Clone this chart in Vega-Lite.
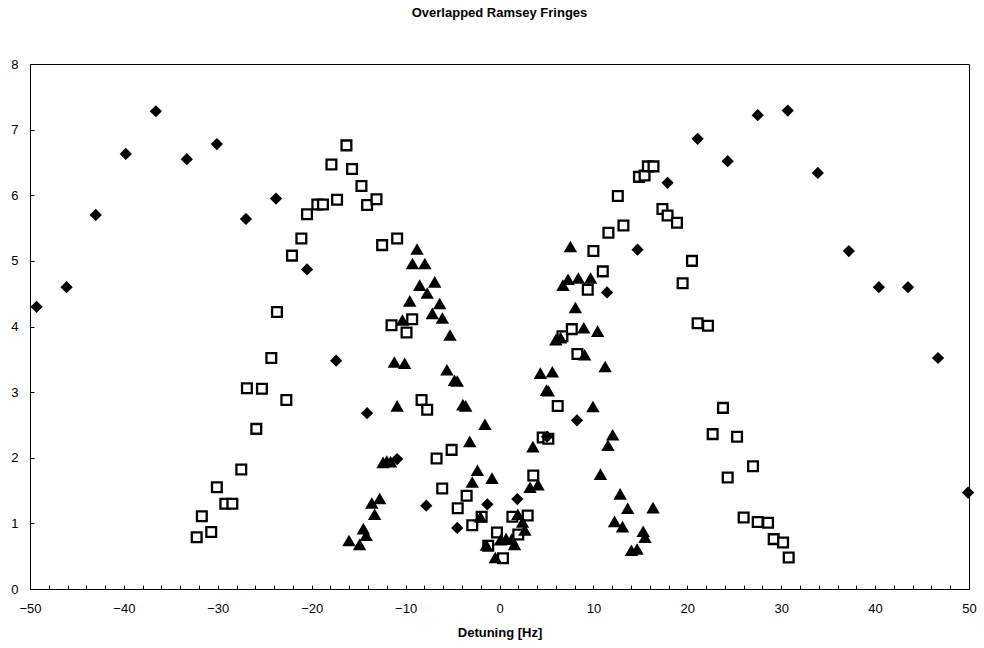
{
  "$schema": "https://vega.github.io/schema/vega-lite/v6.json",
  "width": 939,
  "height": 525,
  "autosize": "none",
  "padding": {"left": 30, "top": 64, "right": 15, "bottom": 59},
  "background": "white",
  "config": {
    "font": "Liberation Sans",
    "view": {"stroke": "black", "strokeWidth": 1},
    "axis": {"grid": false, "domainColor": "black", "tickColor": "black", "labelColor": "black", "titleColor": "black", "labelFont": "Liberation Sans", "titleFont": "Liberation Sans"}
  },
  "title": {
    "text": "Overlapped Ramsey Fringes",
    "font": "Liberation Sans",
    "fontSize": 13,
    "fontWeight": "bold",
    "color": "black",
    "anchor": "middle",
    "baseline": "bottom",
    "offset": 25
  },
  "datasets": {
    "diamonds": [
      {"x": -49.3, "y": 4.30}, {"x": -46.1, "y": 4.60}, {"x": -43.0, "y": 5.70}, {"x": -39.8, "y": 6.63},
      {"x": -36.6, "y": 7.28}, {"x": -33.3, "y": 6.55}, {"x": -30.1, "y": 6.78}, {"x": -27.0, "y": 5.64},
      {"x": -23.8, "y": 5.95}, {"x": -20.5, "y": 4.87}, {"x": -17.4, "y": 3.48}, {"x": -14.1, "y": 2.68},
      {"x": -10.9, "y": 1.98}, {"x": -7.8, "y": 1.27}, {"x": -4.5, "y": 0.93}, {"x": -1.3, "y": 1.29},
      {"x": 1.9, "y": 1.37}, {"x": 5.06, "y": 2.32}, {"x": 8.25, "y": 2.57}, {"x": 11.45, "y": 4.52},
      {"x": 14.7, "y": 5.17}, {"x": 17.9, "y": 6.19}, {"x": 21.1, "y": 6.86}, {"x": 24.3, "y": 6.52},
      {"x": 27.5, "y": 7.22}, {"x": 30.7, "y": 7.29}, {"x": 33.9, "y": 6.34}, {"x": 37.2, "y": 5.15},
      {"x": 40.4, "y": 4.60}, {"x": 43.5, "y": 4.60}, {"x": 46.7, "y": 3.52}, {"x": 49.9, "y": 1.47}
    ],
    "squares": [
      {"x": -32.25, "y": 0.79}, {"x": -31.7, "y": 1.11}, {"x": -30.7, "y": 0.87}, {"x": -30.1, "y": 1.55},
      {"x": -29.2, "y": 1.30}, {"x": -28.45, "y": 1.30}, {"x": -27.5, "y": 1.82}, {"x": -26.9, "y": 3.06},
      {"x": -25.9, "y": 2.44}, {"x": -25.3, "y": 3.05}, {"x": -24.3, "y": 3.52}, {"x": -22.7, "y": 2.88},
      {"x": -23.7, "y": 4.22}, {"x": -22.1, "y": 5.08}, {"x": -21.1, "y": 5.34}, {"x": -20.5, "y": 5.71},
      {"x": -19.4, "y": 5.86}, {"x": -18.8, "y": 5.86}, {"x": -17.9, "y": 6.47}, {"x": -17.3, "y": 5.93},
      {"x": -16.3, "y": 6.76}, {"x": -15.7, "y": 6.40}, {"x": -14.7, "y": 6.14}, {"x": -14.1, "y": 5.85},
      {"x": -13.1, "y": 5.94}, {"x": -12.5, "y": 5.24}, {"x": -10.9, "y": 5.34}, {"x": -11.5, "y": 4.02},
      {"x": -9.3, "y": 4.11}, {"x": -9.9, "y": 3.91}, {"x": -8.3, "y": 2.88}, {"x": -7.7, "y": 2.73},
      {"x": -5.1, "y": 2.12}, {"x": -6.7, "y": 1.99}, {"x": -6.1, "y": 1.53}, {"x": -3.5, "y": 1.42},
      {"x": -4.45, "y": 1.23}, {"x": -2.9, "y": 0.97}, {"x": -1.9, "y": 1.10}, {"x": -1.2, "y": 0.66},
      {"x": -0.27, "y": 0.86}, {"x": 0.37, "y": 0.47}, {"x": 1.37, "y": 1.10}, {"x": 2.0, "y": 0.83},
      {"x": 3.0, "y": 1.12}, {"x": 3.6, "y": 1.73}, {"x": 4.6, "y": 2.31}, {"x": 5.2, "y": 2.29},
      {"x": 6.2, "y": 2.79}, {"x": 6.7, "y": 3.85}, {"x": 7.7, "y": 3.96}, {"x": 8.3, "y": 3.58},
      {"x": 9.4, "y": 4.56}, {"x": 10.0, "y": 5.15}, {"x": 11.0, "y": 4.84}, {"x": 11.6, "y": 5.43},
      {"x": 12.6, "y": 5.99}, {"x": 13.2, "y": 5.54}, {"x": 14.85, "y": 6.28}, {"x": 15.45, "y": 6.30},
      {"x": 15.8, "y": 6.44}, {"x": 16.4, "y": 6.44}, {"x": 17.35, "y": 5.79}, {"x": 17.9, "y": 5.69},
      {"x": 18.9, "y": 5.58}, {"x": 19.5, "y": 4.66}, {"x": 20.5, "y": 5.00}, {"x": 21.1, "y": 4.05},
      {"x": 22.2, "y": 4.01}, {"x": 23.8, "y": 2.76}, {"x": 22.7, "y": 2.36}, {"x": 25.3, "y": 2.32},
      {"x": 27.0, "y": 1.87}, {"x": 24.3, "y": 1.70}, {"x": 26.0, "y": 1.09}, {"x": 27.5, "y": 1.02},
      {"x": 28.6, "y": 1.01}, {"x": 29.2, "y": 0.76}, {"x": 30.2, "y": 0.71}, {"x": 30.8, "y": 0.48}
    ],
    "triangles": [
      {"x": -16.03, "y": 0.74}, {"x": -14.9, "y": 0.68}, {"x": -14.5, "y": 0.92}, {"x": -14.2, "y": 0.82},
      {"x": -13.6, "y": 1.31}, {"x": -13.3, "y": 1.14}, {"x": -12.76, "y": 1.38}, {"x": -12.4, "y": 1.93},
      {"x": -12.0, "y": 1.95}, {"x": -11.6, "y": 1.94}, {"x": -11.2, "y": 3.46}, {"x": -10.9, "y": 2.79},
      {"x": -10.1, "y": 3.44}, {"x": -10.34, "y": 4.10}, {"x": -9.56, "y": 4.39}, {"x": -9.27, "y": 4.96},
      {"x": -8.78, "y": 5.18}, {"x": -8.5, "y": 4.63}, {"x": -7.95, "y": 4.96}, {"x": -7.7, "y": 4.51},
      {"x": -7.15, "y": 4.20}, {"x": -6.9, "y": 4.68}, {"x": -6.37, "y": 4.35}, {"x": -6.08, "y": 4.13},
      {"x": -5.27, "y": 3.87}, {"x": -5.6, "y": 3.34}, {"x": -4.8, "y": 3.18}, {"x": -4.5, "y": 3.17},
      {"x": -3.9, "y": 2.81}, {"x": -3.6, "y": 2.79}, {"x": -3.17, "y": 2.25}, {"x": -2.9, "y": 1.63},
      {"x": -2.35, "y": 1.81}, {"x": -2.04, "y": 1.10}, {"x": -1.55, "y": 2.51}, {"x": -0.8, "y": 1.69},
      {"x": -1.4, "y": 0.67}, {"x": -0.45, "y": 0.48}, {"x": 0.1, "y": 0.75}, {"x": 0.7, "y": 0.77},
      {"x": 1.3, "y": 0.76}, {"x": 1.6, "y": 0.68}, {"x": 1.95, "y": 1.14}, {"x": 2.45, "y": 1.02},
      {"x": 2.7, "y": 0.90}, {"x": 3.25, "y": 1.55}, {"x": 4.1, "y": 1.59}, {"x": 3.56, "y": 2.17},
      {"x": 4.35, "y": 3.29}, {"x": 5.63, "y": 3.31}, {"x": 5.0, "y": 3.03}, {"x": 5.2, "y": 3.02},
      {"x": 6.0, "y": 3.80}, {"x": 6.5, "y": 3.83}, {"x": 6.76, "y": 4.63}, {"x": 7.3, "y": 4.72},
      {"x": 7.55, "y": 5.22}, {"x": 8.4, "y": 4.74}, {"x": 9.7, "y": 4.74}, {"x": 8.08, "y": 4.29},
      {"x": 8.97, "y": 3.98}, {"x": 10.45, "y": 3.93}, {"x": 9.07, "y": 3.57}, {"x": 11.25, "y": 3.39},
      {"x": 9.95, "y": 2.78}, {"x": 12.05, "y": 2.35}, {"x": 11.55, "y": 2.19}, {"x": 10.75, "y": 1.75},
      {"x": 12.85, "y": 1.45}, {"x": 13.65, "y": 1.23}, {"x": 16.35, "y": 1.24}, {"x": 12.25, "y": 1.03},
      {"x": 13.1, "y": 0.95}, {"x": 15.3, "y": 0.88}, {"x": 15.5, "y": 0.79}, {"x": 14.05, "y": 0.59},
      {"x": 14.65, "y": 0.61}
    ]
  },
  "encoding": {
    "x": {
      "field": "x",
      "type": "quantitative",
      "scale": {"domain": [-50, 50], "nice": false, "zero": false},
      "axis": {
        "title": "Detuning [Hz]",
        "titleFontSize": 13,
        "titleFontWeight": "bold",
        "titlePadding": 11,
        "values": [-50, -48, -46, -44, -42, -40, -38, -36, -34, -32, -30, -28, -26, -24, -22, -20, -18, -16, -14, -12, -10, -8, -6, -4, -2, 0, 2, 4, 6, 8, 10, 12, 14, 16, 18, 20, 22, 24, 26, 28, 30, 32, 34, 36, 38, 40, 42, 44, 46, 48, 50],
        "labelExpr": "datum.value % 10 === 0 ? datum.label : ''",
        "labelFontSize": 13,
        "labelFlush": false,
        "labelOverlap": false,
        "tickSize": -4,
        "labelPadding": 17,
        "domainWidth": 1
      }
    },
    "y": {
      "field": "y",
      "type": "quantitative",
      "scale": {"domain": [0, 8], "nice": false, "zero": true},
      "axis": {
        "title": null,
        "values": [0, 1, 2, 3, 4, 5, 6, 7, 8],
        "labelFontSize": 13,
        "tickSize": -4,
        "labelPadding": 16,
        "domainWidth": 1
      }
    }
  },
  "layer": [
    {
      "data": {"name": "squares"},
      "mark": {"type": "point", "shape": "square", "size": 95, "fill": "white", "stroke": "black", "strokeWidth": 2.3, "opacity": 1, "filled": false}
    },
    {
      "data": {"name": "triangles"},
      "mark": {"type": "point", "shape": "triangle-up", "size": 180, "color": "black", "filled": true, "opacity": 1, "strokeWidth": 0}
    },
    {
      "data": {"name": "diamonds"},
      "mark": {"type": "point", "shape": "diamond", "size": 150, "color": "black", "filled": true, "opacity": 1, "strokeWidth": 0}
    }
  ]
}
